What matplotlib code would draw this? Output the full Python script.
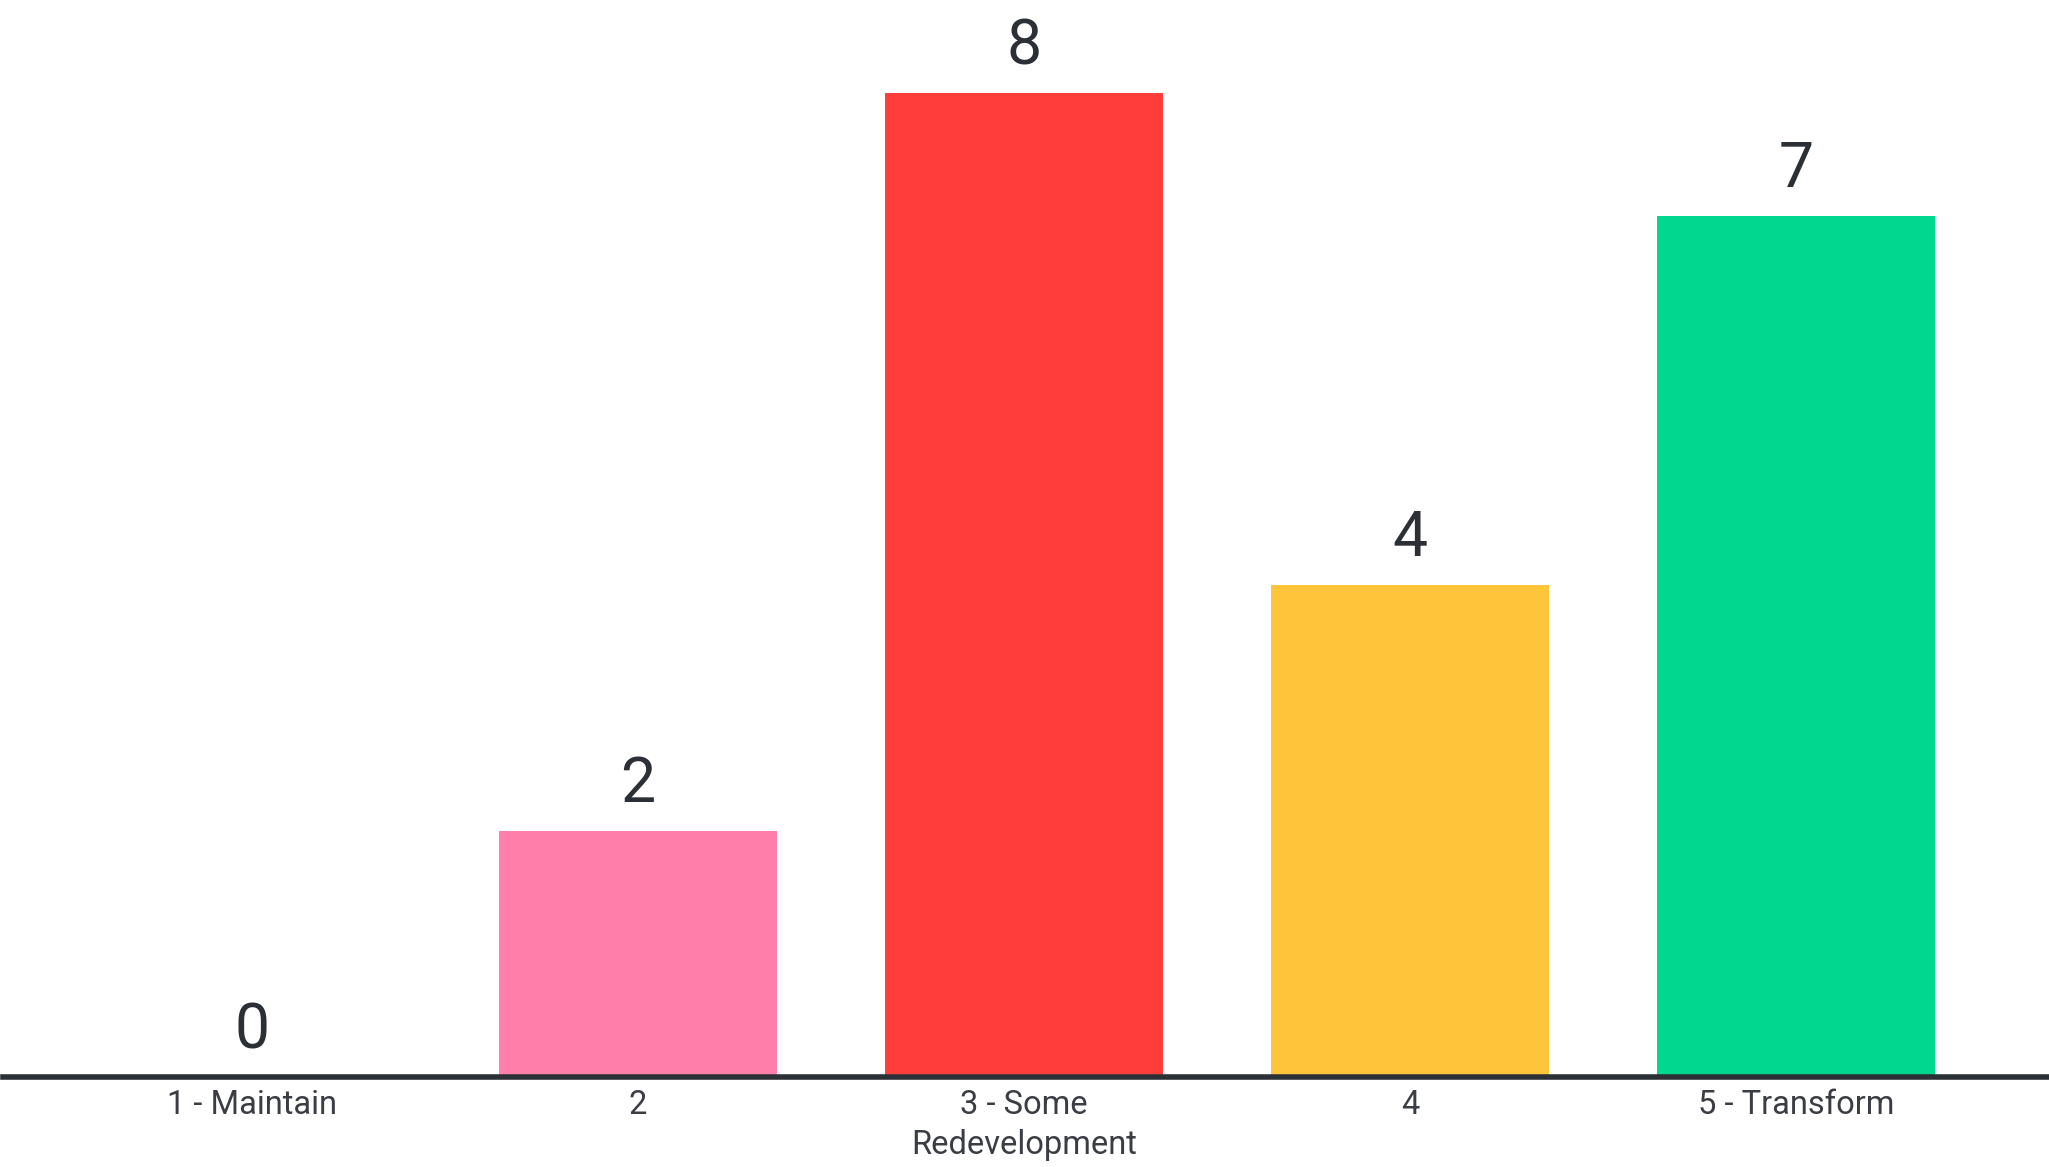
import matplotlib.pyplot as plt

categories = ["1 - Maintain", "2", "3 - Some\nRedevelopment", "4", "5 - Transform"]
counts = [0, 2, 8, 4, 7]
bar_colors = ["#FF7FAA", "#FF7FAA", "#FF3E3C", "#FFC53A", "#01D78F"]

plt.rcParams['font.family'] = ['Roboto', 'DejaVu Sans']
text_color = "#2B2F36"

fig = plt.figure(figsize=(20.49, 11.67), dpi=100)
# axes spans from baseline (y=1077 px) to top of figure
ax = fig.add_axes([0.0015, 90 / 1167, 1 - 0.0015, 1077 / 1167])

x = list(range(len(categories)))
ax.bar(x, counts, width=0.72, color=bar_colors, zorder=1)

for xi, v in zip(x, counts):
    ax.text(xi, v + 0.13, str(v), ha="center", va="bottom",
            fontsize=45, color=text_color)

ax.set_xlim(-0.645, 4.655)
ax.set_ylim(0, 8.76)

for s in ["top", "right", "left"]:
    ax.spines[s].set_visible(False)
ax.spines["bottom"].set_color(text_color)
ax.spines["bottom"].set_linewidth(4)
ax.spines["bottom"].set_zorder(3)

ax.set_yticks([])
ax.set_xticks(x)
ax.set_xticklabels(categories, fontsize=23.5, color="#3A3D44", linespacing=1.3)
ax.tick_params(axis="x", length=0, pad=9)

fig.savefig("out.png", dpi=100, facecolor="white")
